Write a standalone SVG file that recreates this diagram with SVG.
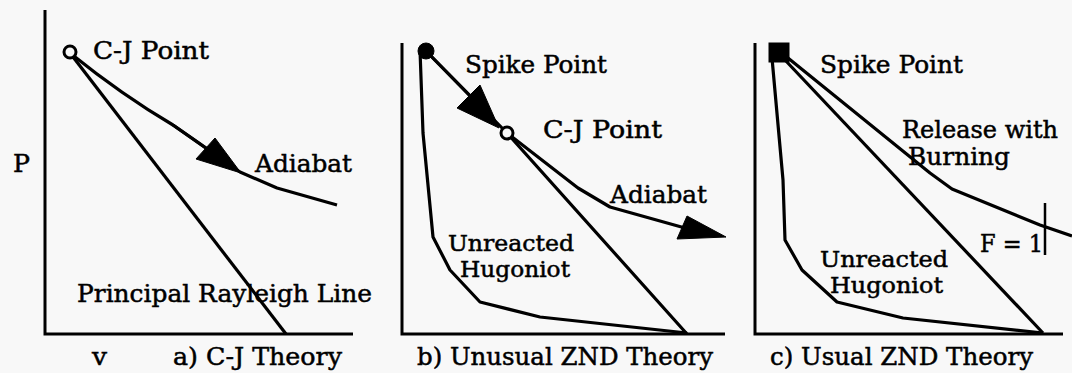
<svg xmlns="http://www.w3.org/2000/svg" width="1072" height="373" viewBox="0 0 1072 373">
<style>
.ln{fill:none;stroke:#000;stroke-width:3.2;stroke-linejoin:round;stroke-linecap:butt}
.ax{fill:none;stroke:#000;stroke-width:3}
.t{font-family:"DejaVu Serif","Liberation Serif",serif;font-size:24px;fill:#000;stroke:#000;stroke-width:0.5}
.s{font-size:21.5px}
.ah{fill:#000;stroke:#000;stroke-width:1;stroke-linejoin:round}
.open{fill:#f8f8f8;stroke:#000;stroke-width:3}
.solid{fill:#000;stroke:#000;stroke-width:1}
</style>
<rect width="1072" height="373" fill="#f8f8f8"/>
<g id="axes">
<polyline class="ax" points="45,10 45,334 353,334"/>
<polyline class="ax" points="402,43 402,334 725,334"/>
<polyline class="ax" points="755,43 755,334 1063,334"/>
</g>
<g id="connectors">
<path class="ln" d="M70,53 L286,334"/>
<path class="ln" d="M70,53 Q122,95 173,125 L240,172 L277,188 L337,205"/>
<path class="ln" d="M173,125 L206,148" stroke-width="5"/>
<polygon class="ah" points="196,159 215,138 241,173"/>
<polyline class="ln" points="420,50 423,133 433,237 450,270 480,302 540,317 687,333"/>
<polyline class="ln" points="426,51 507,133 687,334"/>
<polyline class="ln" points="426,51 470,96"/>
<polygon class="ah" points="457,108 480,85 499,128"/>
<polyline class="ln" points="507,133 578,188 610,207 685,228"/>
<polygon class="ah" points="677,239 687,216 726,237"/>
<polyline class="ln" points="772,58 783,180 785,240 802,270 837,302 903,318 1043,333"/>
<polyline class="ln" points="785,60 1043,333"/>
<polyline class="ln" points="788,58 930,173 952,189 1040,225 1072,236"/>
<line x1="1045" y1="203" x2="1045" y2="255" stroke="#000" stroke-width="2.5"/>
</g>
<g id="cj-point-a"><circle class="open" cx="70" cy="52" r="6"/></g>
<g id="spike-point-b"><circle class="solid" cx="426" cy="51" r="8"/></g>
<g id="cj-point-b"><circle class="open" cx="507" cy="133" r="6"/></g>
<g id="spike-point-c"><rect class="solid" x="769" y="43" width="20" height="19"/></g>
<g id="labels-a">
<text class="t" x="93" y="59" textLength="116" lengthAdjust="spacingAndGlyphs">C-J Point</text>
<text class="t" x="13" y="172" textLength="17" lengthAdjust="spacingAndGlyphs">P</text>
<text class="t" x="255" y="172" textLength="97" lengthAdjust="spacingAndGlyphs">Adiabat</text>
<text class="t" x="77" y="302" textLength="295" lengthAdjust="spacingAndGlyphs">Principal Rayleigh Line</text>
<text class="t" x="92" y="365" textLength="15" lengthAdjust="spacingAndGlyphs">v</text>
<text class="t" x="173" y="365" textLength="169" lengthAdjust="spacingAndGlyphs">a) C-J Theory</text>
</g>
<g id="labels-b">
<text class="t" x="465" y="73" textLength="142" lengthAdjust="spacingAndGlyphs">Spike Point</text>
<text class="t" x="543" y="138" textLength="119" lengthAdjust="spacingAndGlyphs">C-J Point</text>
<text class="t" x="610" y="203" textLength="97" lengthAdjust="spacingAndGlyphs">Adiabat</text>
<text class="t s" x="448" y="251" textLength="126" lengthAdjust="spacingAndGlyphs">Unreacted</text>
<text class="t s" x="460" y="277" textLength="110" lengthAdjust="spacingAndGlyphs">Hugoniot</text>
<text class="t" x="417" y="365" textLength="296" lengthAdjust="spacingAndGlyphs">b) Unusual ZND Theory</text>
</g>
<g id="labels-c">
<text class="t" x="820" y="73" textLength="143" lengthAdjust="spacingAndGlyphs">Spike Point</text>
<text class="t" x="902" y="138" textLength="156" lengthAdjust="spacingAndGlyphs">Release with</text>
<text class="t" x="908" y="165" textLength="102" lengthAdjust="spacingAndGlyphs">Burning</text>
<text class="t" x="980" y="252" textLength="63" lengthAdjust="spacingAndGlyphs">F = 1</text>
<text class="t s" x="820" y="267" textLength="128" lengthAdjust="spacingAndGlyphs">Unreacted</text>
<text class="t s" x="830" y="293" textLength="113" lengthAdjust="spacingAndGlyphs">Hugoniot</text>
<text class="t" x="770" y="365" textLength="263" lengthAdjust="spacingAndGlyphs">c) Usual ZND Theory</text>
</g>
</svg>
